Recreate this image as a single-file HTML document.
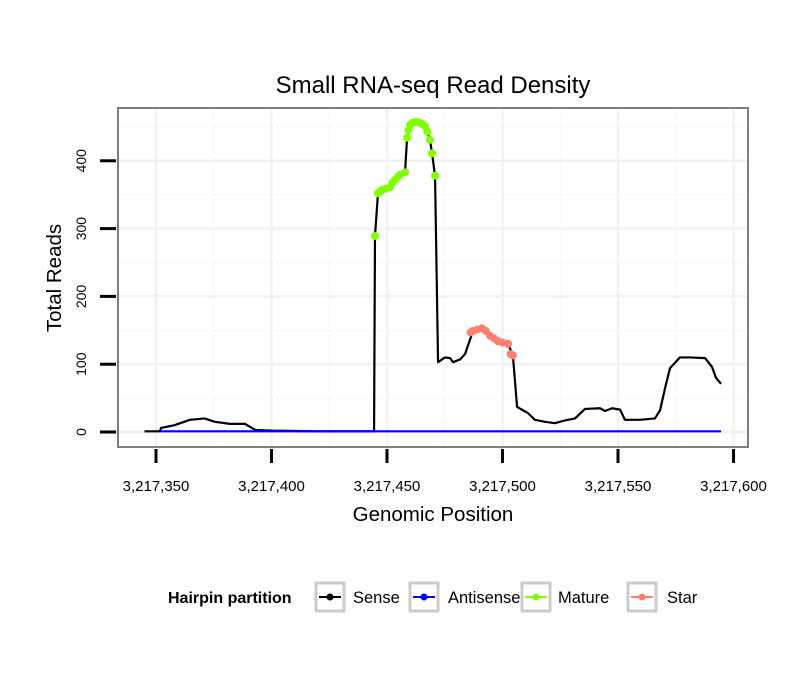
<!DOCTYPE html>
<html><head><meta charset="utf-8"><style>
body{margin:0;background:#fff;}
svg text{font-family:"Liberation Sans",sans-serif;}
</style></head><body>
<svg id="chart" width="810" height="690" xmlns="http://www.w3.org/2000/svg">
<text x="433" y="93" font-size="24" text-anchor="middle">Small RNA-seq Read Density</text>
<g id="grid"></g>
<g id="series"></g>
<rect x="118" y="108" width="630" height="339" fill="none" stroke="#7f7f7f" stroke-width="2"/>
<g id="axes"></g>
<text x="433" y="521" font-size="20.5" text-anchor="middle">Genomic Position</text>
<text transform="translate(61,278) rotate(-90)" font-size="20.5" text-anchor="middle">Total Reads</text>
<g>
<text x="168" y="603" font-size="16" font-weight="bold">Hairpin partition</text>
<g><rect x="316" y="583" width="28" height="28" fill="#fff" stroke="#ccc" stroke-width="3"/><line x1="319" y1="597" x2="341" y2="597" stroke="#000" stroke-width="2"/><circle cx="330" cy="597" r="3.5" fill="#000"/><text x="353" y="603" font-size="16.5">Sense</text></g>
<g><rect x="410" y="583" width="28" height="28" fill="#fff" stroke="#ccc" stroke-width="3"/><line x1="413" y1="597" x2="435" y2="597" stroke="#0000ff" stroke-width="2"/><circle cx="424" cy="597" r="3.5" fill="#0000ff"/><text x="448" y="603" font-size="16.5">Antisense</text></g>
<g><rect x="522" y="583" width="28" height="28" fill="#fff" stroke="#ccc" stroke-width="3"/><line x1="525" y1="597" x2="547" y2="597" stroke="#7fff00" stroke-width="2"/><circle cx="536" cy="597" r="3.5" fill="#7fff00"/><text x="558" y="603" font-size="16.5">Mature</text></g>
<g><rect x="628" y="583" width="28" height="28" fill="#fff" stroke="#ccc" stroke-width="3"/><line x1="631" y1="597" x2="653" y2="597" stroke="#fa8072" stroke-width="2"/><circle cx="642" cy="597" r="3.5" fill="#fa8072"/><text x="667" y="603" font-size="16.5">Star</text></g>
</g>
</svg>
<script>
const xTicks=[3217350,3217400,3217450,3217500,3217550,3217600];
const xTickLabels=["3,217,350","3,217,400","3,217,450","3,217,500","3,217,550","3,217,600"];
const yTicks=[0,100,200,300,400];
const sensePos=[3217345,3217351.7,3217352.2,3217358,3217364.7,3217371,3217375.5,3217382,3217388.5,3217393,3217400,3217421,3217444.4,3217444.8,3217446.1,3217447.8,3217451.3,3217453.5,3217455.6,3217457.8,3217458.7,3217460,3217462.1,3217464.3,3217466.5,3217468.6,3217469.5,3217470.8,3217472.1,3217475.1,3217477.3,3217478.6,3217481.6,3217483.8,3217485.1,3217487.2,3217491.1,3217494.6,3217498,3217502.4,3217504.5,3217506.3,3217511,3217514,3217518.4,3217522.7,3217527,3217531.4,3217535.7,3217542.2,3217544.4,3217547.4,3217550.9,3217553,3217559.5,3217566,3217568.2,3217570.4,3217572.5,3217576.8,3217581.2,3217587.7,3217590.7,3217592.4,3217594.6];
const senseVals=[1,1,6,10,18,20,15,12,12,3,2,1,1,289,352,357,361,372,379,383,434,453,457,456,451,431,411,378,103,110,109,103,107,115,128,149,153,142,134,130,113,37,28,18,15,13,17,20,34,35,31,35,33,18,18,20,32,65,94,110,110,109,96,80,71];
const antiPos=[3217352,3217594.6];
const antiVals=[1,1];
const maturePos=[3217444.8,3217446.1,3217447,3217447.8,3217449.5,3217451.3,3217452.4,3217453.5,3217454.6,3217455.6,3217457.8,3217458.7,3217459.3,3217460,3217461,3217462.1,3217463.2,3217464.3,3217465.4,3217466.5,3217467.5,3217468.6,3217469.5,3217470.8];
const matureVals=[289,352,355,357,359,361,368,372,376,379,383,434,445,453,456,457,457,456,454,451,443,431,411,378];
const starPos=[3217486.2,3217487.2,3217489,3217491.1,3217492.8,3217494.6,3217496.3,3217498,3217500,3217502.4,3217503.5,3217504.5];
const starVals=[147,149,151,153,149,142,138,134,132,130,115,113];
const X=v=>156+(v-3217350)*2.31;
const Y=v=>432-v*0.678;
const NS="http://www.w3.org/2000/svg";
function mk(tag,attrs,parent){const e=document.createElementNS(NS,tag);for(const k in attrs)e.setAttribute(k,attrs[k]);parent.appendChild(e);return e;}
const grid=document.getElementById('grid'),series=document.getElementById('series'),axes=document.getElementById('axes');
mk('rect',{x:118,y:108,width:630,height:339,fill:'#fff'},grid);
for(let i=0;i<xTicks.length-1;i++){const m=(xTicks[i]+xTicks[i+1])/2;if(X(m)<748){const l=mk('line',{x1:X(m),x2:X(m),y1:108,y2:447,stroke:'#f7f7f7','stroke-width':1},grid);}}
for(let i=0;i<yTicks.length;i++){const m=yTicks[i]+50;const l=mk('line',{x1:118,x2:748,y1:Y(m),y2:Y(m),stroke:'#f7f7f7','stroke-width':1},grid);}
xTicks.forEach((t,i)=>{if(X(t)<748){const l=mk('line',{x1:X(t),x2:X(t),y1:108,y2:447,stroke:'#f2f2f2','stroke-width':2.5},grid);}
const tk=mk('line',{x1:X(t),x2:X(t),y1:449,y2:463,stroke:'#000','stroke-width':3},axes);
const tx=mk('text',{x:X(t),y:491,'font-size':15,'text-anchor':'middle'},axes);tx.textContent=xTickLabels[i];});
yTicks.forEach(t=>{const l=mk('line',{x1:118,x2:748,y1:Y(t),y2:Y(t),stroke:'#f2f2f2','stroke-width':2.5},grid);
const tk=mk('line',{x1:100,x2:116,y1:Y(t),y2:Y(t),stroke:'#000','stroke-width':3},axes);
const tx=mk('text',{transform:`translate(86,${Y(t)}) rotate(-90)`,'font-size':14,'text-anchor':'middle'},axes);tx.textContent=String(t);});
function line(pos,vals,color,name){const p=mk('polyline',{points:pos.map((x,i)=>X(x)+','+Y(vals[i])).join(' '),fill:'none',stroke:color,'stroke-width':2.2,'stroke-linejoin':'round'},series);}
line(sensePos,senseVals,'#000','sense-line');
line(antiPos,antiVals,'#0000ff','antisense-line');
function pts(pos,vals,color,name){pos.forEach((x,i)=>{const c=mk('circle',{cx:X(x),cy:Y(vals[i]),r:4,fill:color},series);});}
pts(maturePos,matureVals,'#7fff00','mature-point');
pts(starPos,starVals,'#fa8072','star-point');
</script>
</body></html>
